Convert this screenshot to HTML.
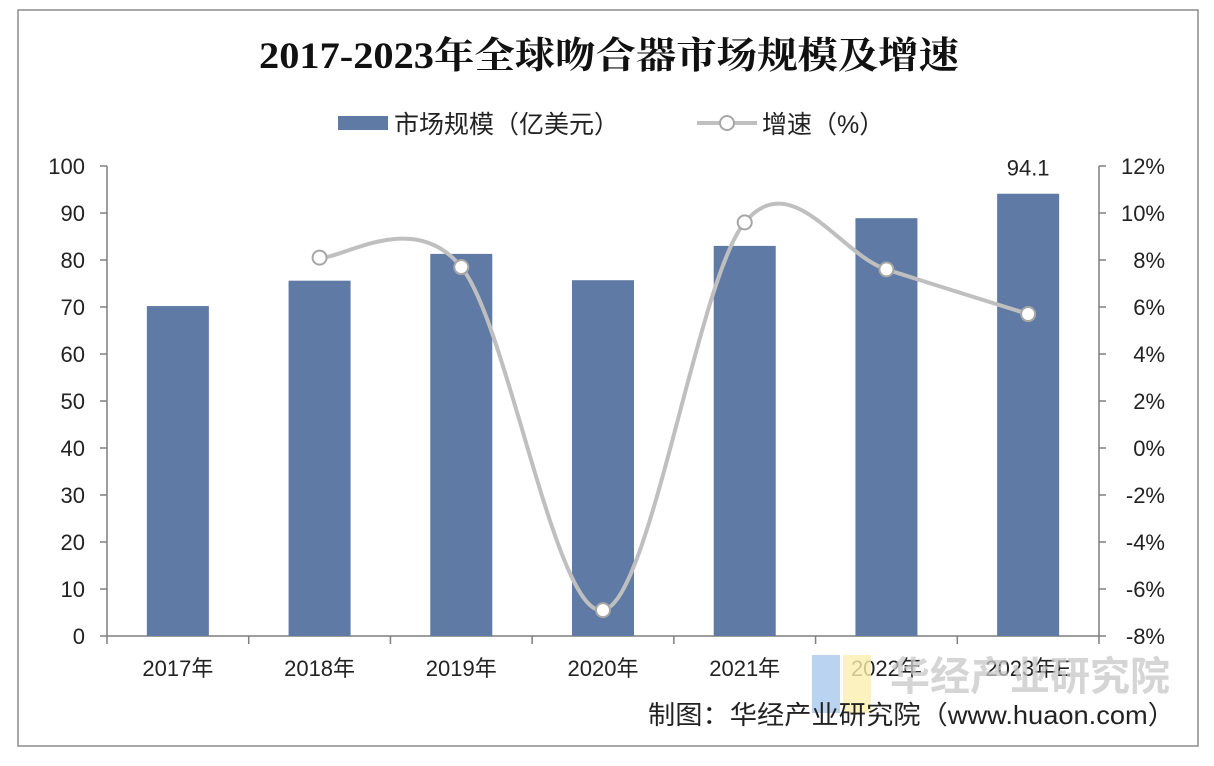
<!DOCTYPE html>
<html><head><meta charset="utf-8"><style>
html,body{margin:0;padding:0;background:#fff;width:1214px;height:766px;overflow:hidden}
svg{display:block}
text{font-family:"Liberation Sans","Noto Sans CJK SC",sans-serif}
</style></head><body>
<svg id="chart" width="1214" height="766" viewBox="0 0 1214 766">
<rect x="18" y="10" width="1180" height="736" fill="#fff" stroke="#8c8c8c" stroke-width="1.5"/>
<text x="609" y="68" text-anchor="middle" font-size="37" font-weight="bold" textLength="700" lengthAdjust="spacingAndGlyphs" style="font-family:'Liberation Serif','Noto Serif CJK SC',serif" fill="#111">2017-2023年全球吻合器市场规模及增速</text>
<g>
<g>
<rect x="338" y="116" width="50" height="14" fill="#5f7aa4"/>
<text x="394" y="133" font-size="25" fill="#222">市场规模（亿美元）</text>
</g>
<g>
<line x1="697" y1="123" x2="757" y2="123" stroke="#bfbfbf" stroke-width="4"/>
<circle cx="727" cy="123" r="7" fill="#fff" stroke="#a6a6a6" stroke-width="2"/>
<text x="762" y="133" font-size="25" fill="#222">增速（%）</text>
</g>
</g>
<g id="axes"></g>
<g id="bars"></g>
<g id="line"></g>
<text x="1170" y="690" text-anchor="end" font-size="40" font-weight="bold" fill="#c8c8c8" opacity="0.75">华经产业研究院</text>
<rect x="812" y="655" width="28" height="58" fill="#a9c8ee" opacity="0.8"/>
<rect x="843" y="655" width="28" height="58" fill="#fbefb0" opacity="0.8"/>
<text x="1175" y="724" text-anchor="end" font-size="26" textLength="527" lengthAdjust="spacingAndGlyphs" fill="#222">制图：华经产业研究院（www.huaon.com）</text>
</svg>
<script>
const categories=["2017年","2018年","2019年","2020年","2021年","2022年","2023年E"];
const marketSize=[70.2,75.6,81.3,75.7,83.0,88.9,94.1];
const growth=[null,8.1,7.7,-6.9,9.6,7.6,5.7];
const leftTicks=[0,10,20,30,40,50,60,70,80,90,100];
const rightTicks=[-8,-6,-4,-2,0,2,4,6,8,10,12];
const labelIndex=[6];

const NS="http://www.w3.org/2000/svg";
const X0=107,X1=1099,Y0=636,Y1=166;
const cw=(X1-X0)/categories.length;
const xc=i=>X0+cw*(i+0.5);
const yL=v=>Y0-(v-0)/(100-0)*(Y0-Y1);
const yR=v=>Y0-(v+8)/(12+8)*(Y0-Y1);
function mk(tag,attrs,parent,txt){const e=document.createElementNS(NS,tag);for(const k in attrs)e.setAttribute(k,attrs[k]);if(txt!=null)e.textContent=txt;parent.appendChild(e);return e;}
const axes=document.getElementById('axes'),bars=document.getElementById('bars'),lineG=document.getElementById('line');
let a=mk('line',{x1:X0,y1:Y1,x2:X0,y2:Y0,stroke:'#7f7f7f','stroke-width':1.5},axes);


a=mk('line',{x1:X1,y1:Y1,x2:X1,y2:Y0,stroke:'#7f7f7f','stroke-width':1.5},axes);


a=mk('line',{x1:X0,y1:Y0,x2:X1,y2:Y0,stroke:'#7f7f7f','stroke-width':1.5},axes);


leftTicks.forEach(v=>{const y=yL(v);
 mk('line',{x1:X0-7,y1:y,x2:X0,y2:y,stroke:'#7f7f7f','stroke-width':1.5},axes);
 const t=mk('text',{x:X0-22,y:y+8,'text-anchor':'end','font-size':22,fill:'#222'},axes,String(v));
 
 });
rightTicks.forEach(v=>{const y=yR(v);
 mk('line',{x1:X1,y1:y,x2:X1+7,y2:y,stroke:'#7f7f7f','stroke-width':1.5},axes);
 const t=mk('text',{x:X1+66,y:y+8,'text-anchor':'end','font-size':22,fill:'#222'},axes,v+'%');
 
 });
for(let i=0;i<=categories.length;i++){const x=X0+cw*i;mk('line',{x1:x,y1:Y0,x2:x,y2:Y0+8,stroke:'#7f7f7f','stroke-width':1.5},axes);}
categories.forEach((c,i)=>{const t=mk('text',{x:xc(i),y:676,'text-anchor':'middle','font-size':22,fill:'#222'},axes,c);
 
 });
const bw=62;
marketSize.forEach((v,i)=>{const r=mk('rect',{x:xc(i)-bw/2,y:yL(v),width:bw,height:Y0-yL(v),fill:'#5f7aa4'},bars);
 
 });
labelIndex.forEach(i=>{const t=mk('text',{x:xc(i),y:yL(marketSize[i])-18,'text-anchor':'middle','font-size':22,fill:'#222'},bars,marketSize[i].toFixed(1));
 
 });
const pts=[];growth.forEach((v,i)=>{if(v!=null)pts.push([xc(i),yR(v)]);});
let d='M'+pts[0][0]+','+pts[0][1];
for(let i=0;i<pts.length-1;i++){const p0=pts[i-1]||pts[i],p1=pts[i],p2=pts[i+1],p3=pts[i+2]||p2;const k=1/3;
 const c1=[p1[0]+(p2[0]-p0[0])*k/2,p1[1]+(p2[1]-p0[1])*k/2];
 const c2=[p2[0]-(p3[0]-p1[0])*k/2,p2[1]-(p3[1]-p1[1])*k/2];
 d+=' C'+c1[0]+','+c1[1]+' '+c2[0]+','+c2[1]+' '+p2[0]+','+p2[1];}
const path=mk('path',{d:d,fill:'none',stroke:'#bfbfbf','stroke-width':4},lineG);


pts.forEach(p=>{const c=mk('circle',{cx:p[0],cy:p[1],r:7,fill:'#fff',stroke:'#a6a6a6','stroke-width':2},lineG);
 
 });
</script>
</body></html>
